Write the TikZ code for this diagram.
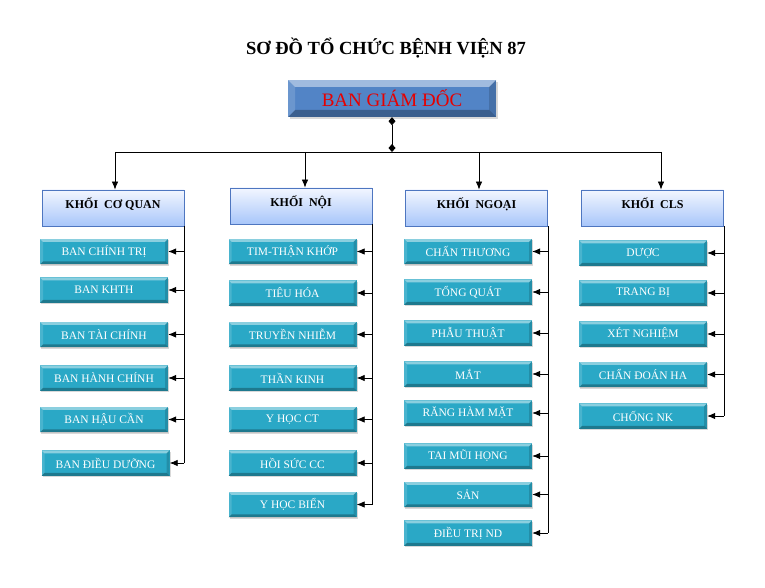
\documentclass[tikz,border=0pt]{standalone}
\usepackage{fontspec}
\setmainfont{Liberation Serif}
\usetikzlibrary{arrows.meta,shadows,calc}
\definecolor{kidfill}{RGB}{42,168,198}
\definecolor{headtop}{RGB}{242,246,255}
\definecolor{headbot}{RGB}{168,198,250}
\definecolor{headline}{RGB}{78,118,192}
\definecolor{bossfill}{RGB}{82,132,198}
\definecolor{bosstext}{RGB}{230,0,0}
\newcommand\bevelpic[1]{%
 \fill[white,opacity=.45] (path picture bounding box.north west) -- (path picture bounding box.north east) -- ([shift={(-#1,-#1)}]path picture bounding box.north east) -- ([shift={(#1,-#1)}]path picture bounding box.north west) -- cycle;
 \fill[black,opacity=.28] (path picture bounding box.south west) -- (path picture bounding box.south east) -- ([shift={(-#1,#1)}]path picture bounding box.south east) -- ([shift={(#1,#1)}]path picture bounding box.south west) -- cycle;
 \fill[black,opacity=.15] (path picture bounding box.north east) -- (path picture bounding box.south east) -- ([shift={(-#1,#1)}]path picture bounding box.south east) -- ([shift={(-#1,-#1)}]path picture bounding box.north east) -- cycle;
 \fill[white,opacity=.15] (path picture bounding box.north west) -- (path picture bounding box.south west) -- ([shift={(#1,#1)}]path picture bounding box.south west) -- ([shift={(#1,-#1)}]path picture bounding box.north west) -- cycle;
}
\tikzset{
 kid/.style={fill=kidfill, minimum width=128pt, minimum height=25.5pt, inner sep=0pt,
   text=white, font=\fontsize{11.5}{13}\selectfont,
   drop shadow={opacity=0.3, shadow xshift=1.2pt, shadow yshift=-1.5pt},
   path picture={\bevelpic{3pt}}},
 head/.style={draw=headline, line width=0.8pt, top color=headtop, bottom color=headbot,
   minimum width=142pt, minimum height=36pt, inner sep=0pt,
   font=\bfseries\fontsize{12}{14}\selectfont},
 boss/.style={fill=bossfill, minimum width=208pt, minimum height=37pt, inner sep=0pt,
   text=bosstext, font=\fontsize{19}{21}\selectfont,
   drop shadow={opacity=0.3, shadow xshift=1.5pt, shadow yshift=-2pt},
   path picture={\bevelpic{7pt}}},
 arr/.style={-{Latex[length=8pt,width=6.5pt]}},
 conn/.style={line width=0.8pt, black},
}
\begin{document}
\begin{tikzpicture}[x=1pt,y=-1pt]
\useasboundingbox (0,0) rectangle (765,588);
\node[font=\bfseries\fontsize{18.5}{20}\selectfont] (title) at (386,48) {SƠ ĐỒ TỔ CHỨC BỆNH VIỆN 87};
\node[boss] (top) at (392,98.5) {BAN GIÁM ĐỐC};

\coordinate (d1) at (115,152);
\coordinate (d2) at (305,152);
\coordinate (d3) at (479,152);
\coordinate (d4) at (661,152);

\node[head] (h1) at (113,208) {\raisebox{10pt}{KHỐI\ \ CƠ QUAN}};
\node[head] (h2) at (301,206) {\raisebox{10pt}{KHỐI\ \ NỘI}};
\node[head] (h3) at (476.5,208) {\raisebox{10pt}{KHỐI\ \ NGOẠI}};
\node[head] (h4) at (652.5,208) {\raisebox{10pt}{KHỐI\ \ CLS}};

% column 1
\node[kid] (a1) at (104,251.5) {BAN CHÍNH TRỊ};
\node[kid] (a2) at (104,290) {BAN KHTH};
\node[kid] (a3) at (104,334.5) {BAN TÀI CHÍNH};
\node[kid] (a4) at (104,378) {BAN HÀNH CHÍNH};
\node[kid] (a5) at (104,419.5) {BAN HẬU CẦN};
\node[kid] (a6) at (105.5,463) {BAN ĐIỀU DƯỠNG};
% column 2
\node[kid] (b1) at (292.5,251.5) {TIM-THẬN KHỚP};
\node[kid] (b2) at (292.5,293) {TIÊU HÓA};
\node[kid] (b3) at (292.5,334.5) {TRUYỀN NHIỄM};
\node[kid] (b4) at (292.5,378) {THẦN KINH};
\node[kid] (b5) at (292.5,419.5) {Y HỌC CT};
\node[kid] (b6) at (292.5,463) {HỒI SỨC CC};
\node[kid] (b7) at (292.5,504.5) {Y HỌC BIỂN};
% column 3
\node[kid] (c1) at (468,251.5) {CHẤN THƯƠNG};
\node[kid] (c2) at (468,292) {TỔNG QUÁT};
\node[kid] (c3) at (468,333) {PHẪU THUẬT};
\node[kid] (c4) at (468,374) {MẮT};
\node[kid] (c5) at (468,413) {RĂNG HÀM MẶT};
\node[kid] (c6) at (468,456) {TAI MŨI HỌNG};
\node[kid] (c7) at (468,494.5) {SẢN};
\node[kid] (c8) at (468,533) {ĐIỀU TRỊ ND};
% column 4
\node[kid] (e1) at (643,253) {DƯỢC};
\node[kid] (e2) at (643,293) {TRANG BỊ};
\node[kid] (e3) at (643,334) {XÉT NGHIỆM};
\node[kid] (e4) at (643,374.5) {CHẨN ĐOÁN HA};
\node[kid] (e5) at (643,416) {CHỐNG NK};

% top connections
\draw[conn, {Diamond[length=8pt,width=7pt]}-{Diamond[length=8pt,width=7pt]}] (top.south) -- (top.south |- d1);
\draw[conn] (d1) -- (d4);
\draw[conn,arr] (d1) -- (d1 |- h1.north);
\draw[conn,arr] (d2) -- (d2 |- h2.north);
\draw[conn,arr] (d3) -- (d3 |- h3.north);
\draw[conn,arr] (d4) -- (d4 |- h4.north);

% column spines
\draw[conn] (h1.south east) -- (h1.south east |- a6.east);
\draw[conn] (h2.south east) -- (h2.south east |- b7.east);
\draw[conn] (h3.south east) -- (h3.south east |- c8.east);
\draw[conn] (h4.south east) -- (h4.south east |- e5.east);

\foreach \k in {a1,a2,a3,a4,a5,a6} \draw[conn,arr] (h1.south east |- \k.east) -- (\k.east);
\foreach \k in {b1,b2,b3,b4,b5,b6,b7} \draw[conn,arr] (h2.south east |- \k.east) -- (\k.east);
\foreach \k in {c1,c2,c3,c4,c5,c6,c7,c8} \draw[conn,arr] (h3.south east |- \k.east) -- (\k.east);
\foreach \k in {e1,e2,e3,e4,e5} \draw[conn,arr] (h4.south east |- \k.east) -- (\k.east);
\end{tikzpicture}
\end{document}
